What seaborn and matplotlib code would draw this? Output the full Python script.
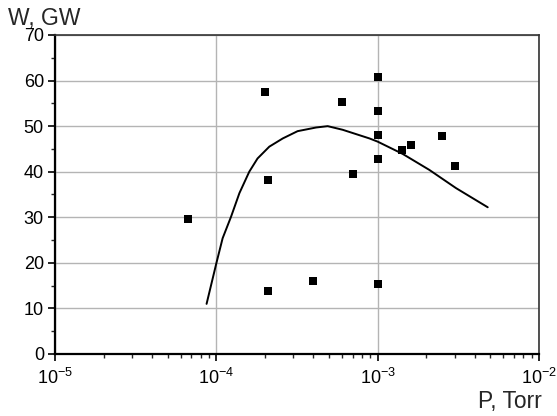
import matplotlib
matplotlib.use("Agg")
import matplotlib.pyplot as plt
import seaborn as sns
import numpy as np
import pandas as pd
from matplotlib.ticker import LogLocator, LogFormatterSciNotation, MultipleLocator, NullFormatter

# Data
p_points = [6.65e-5, 2.0e-4, 2.1e-4, 2.1e-4, 3.95e-4, 6.0e-4, 7.0e-4,
            1.0e-3, 1.0e-3, 1.0e-3, 1.0e-3, 1.0e-3, 1.41e-3, 1.6e-3, 2.5e-3, 3.0e-3]
w_points = [29.6, 57.4, 38.1, 13.8, 16.1, 55.2, 39.5,
            60.7, 53.3, 48.1, 42.8, 15.3, 44.7, 45.9, 47.8, 41.3]

p_curve = [8.7e-5, 1.0e-4, 1.094e-4, 1.233e-4, 1.39e-4, 1.60e-4, 1.80e-4, 2.13e-4,
           2.58e-4, 3.19e-4, 4.15e-4, 4.9e-4, 6.07e-4, 8.9e-4, 1.0e-3, 1.43e-3,
           2.09e-3, 3.06e-3, 4.81e-3]
w_curve = [11.0, 19.9, 25.4, 30.1, 35.3, 40.0, 42.9, 45.5,
           47.3, 48.9, 49.7, 50.0, 49.2, 47.3, 46.6, 43.9,
           40.4, 36.4, 32.2]

x_label = "P, Torr"
y_label = "W, GW"

sns.set_style("ticks")
plt.rcParams['font.family'] = ['Liberation Sans', 'DejaVu Sans']
plt.rcParams['mathtext.fontset'] = 'custom'
plt.rcParams['mathtext.rm'] = 'Liberation Sans'
plt.rcParams['mathtext.it'] = 'Liberation Sans:italic'
plt.rcParams['mathtext.bf'] = 'Liberation Sans:bold'

fig = plt.figure(figsize=(5.57, 4.16), dpi=100)
ax = fig.add_axes([55/557, 1-354/416, (539-55)/557, (354-35)/416])

df_pts = pd.DataFrame({"P": p_points, "W": w_points})
df_cur = pd.DataFrame({"P": p_curve, "W": w_curve})

ax.set_xscale("log")
sns.lineplot(data=df_cur, x="P", y="W", ax=ax, color="black", linewidth=1.4,
             sort=False, estimator=None, zorder=3)
sns.scatterplot(data=df_pts, x="P", y="W", ax=ax, marker="s", s=34,
                color="black", edgecolor="black", linewidth=0, zorder=4)

ax.set_xlim(1e-5, 1e-2)
ax.set_ylim(0, 70)
ax.xaxis.set_major_locator(LogLocator(base=10, numticks=10))
ax.xaxis.set_major_formatter(LogFormatterSciNotation(base=10))
ax.xaxis.set_minor_locator(LogLocator(base=10, subs=np.arange(2, 10), numticks=20))
ax.xaxis.set_minor_formatter(NullFormatter())
ax.yaxis.set_major_locator(MultipleLocator(10))
ax.yaxis.set_minor_locator(MultipleLocator(5))

ax.grid(True, which="major", color="#b4b4b4", linewidth=1.0)
ax.set_axisbelow(True)

ax.tick_params(which="major", direction="out", length=5, width=1.2, labelsize=13,
               colors="black", pad=3)
ax.tick_params(axis="x", which="major", pad=5)
ax.tick_params(which="minor", direction="out", length=3, width=1.0)

for side in ["left", "bottom"]:
    ax.spines[side].set_linewidth(1.6)
    ax.spines[side].set_color("black")
for side in ["top", "right"]:
    ax.spines[side].set_visible(True)
    ax.spines[side].set_linewidth(1.2)
    ax.spines[side].set_color("#333333")

ax.set_xlabel("")
ax.set_ylabel("")
fig.text(8/557, 1-25/416, y_label, fontsize=16.5, ha="left", va="baseline")
fig.text(478/557, 1-408/416, x_label, fontsize=16.5, ha="left", va="baseline")

fig.savefig("out.png", dpi=100)
